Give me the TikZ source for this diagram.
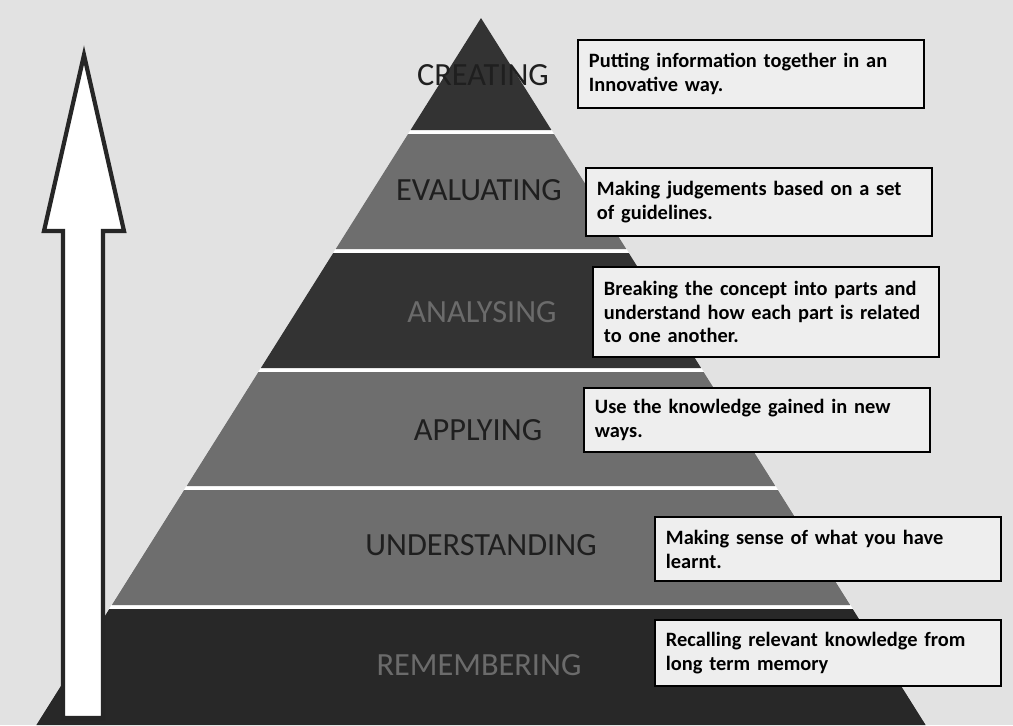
\documentclass[tikz,border=0pt]{standalone}
\usepackage{fontspec}
\setmainfont{Carlito}
\usepackage{tikz}
\usetikzlibrary{positioning}
\definecolor{bggray}{HTML}{E2E2E2}
\definecolor{boxgray}{HTML}{EEEEEE}
\definecolor{darklayer}{HTML}{333333}
\definecolor{midlayer}{HTML}{6E6E6E}
\definecolor{baselayer}{HTML}{282828}

\begin{document}
\begin{tikzpicture}[x=0.025cm, y=-0.025cm]
   \fill[bggray] (0,0) rectangle (1013,725);
   \useasboundingbox (0,0) rectangle (1013,725);
   % pyramid (white shows through the gaps)
   \fill[white] (481,18) -- (926,725) -- (36,725) -- cycle;
   \fill[darklayer] (481,18) -- ({481+0.629*112},130) -- ({481-0.629*112},130) -- cycle;
   \foreach \yt/\yb/\lc in {134/249/midlayer, 253/368/darklayer, 372/486/midlayer, 490/605/midlayer, 609/725/baselayer}
     \fill[\lc] ({481-0.629*(\yt-18)},\yt) -- ({481+0.629*(\yt-18)},\yt) -- ({481+0.629*(\yb-18)},\yb) -- ({481-0.629*(\yb-18)},\yb) -- cycle;

   % arrow
   \draw[line width=3pt, draw=black!85, fill=white, line join=miter] (84,55) -- (124,231) -- (103,231) -- (103,718) -- (63,718) -- (63,231) -- (44,231) -- cycle;

   % level names
   \begin{scope}[every node/.style={font=\fontsize{23}{26}\selectfont, text=black!88}]
    \node (l6) at (483,75) {CREATING};
    \node (l5) at (479,190) {EVALUATING};
    \node (l4) [text=black!58] at (482,312) {ANALYSING};
    \node (l3) at (478,430) {APPLYING};
    \node (l2) at (481,545) {UNDERSTANDING};
    \node (l1) [text=black!58] at (479,665) {REMEMBERING};
   \end{scope}

   % descriptions
   \begin{scope}[every node/.style={draw=black, line width=1.5pt, fill=boxgray, font=\bfseries\fontsize{14.5}{17}\selectfont, text width=8.1cm, inner xsep=8pt, align=left}]
    \node (d6) [minimum height=1.7cm] at (751,74) {Putting information together in an\\Innovative way.};
    \node (d5) [minimum height=1.72cm] at (759,202) {Making judgements based on a set\\of guidelines.};
    \node (d4) [minimum height=2.27cm] at (766,312) {Breaking the concept into parts and\\understand how each part is related\\to one another.};
    \node (d3) [minimum height=1.62cm] at (757,420) {Use the knowledge gained in new\\ways.};
    \node (d2) [minimum height=1.62cm] at (828,549) {Making sense of what you have\\learnt.};
    \node (d1) [minimum height=1.67cm] at (828,653) {Recalling relevant knowledge from\\long term memory};
   \end{scope}
\end{tikzpicture}
\end{document}
